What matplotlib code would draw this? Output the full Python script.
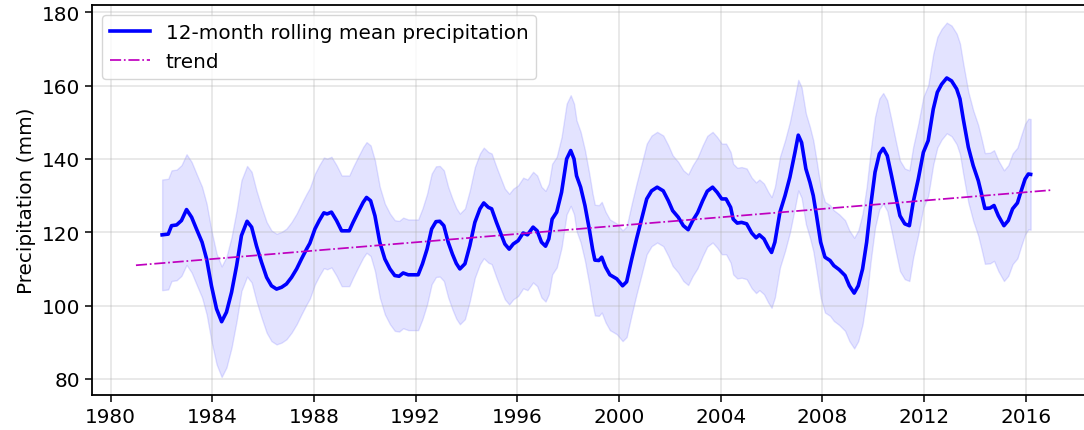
import numpy as np
import matplotlib
matplotlib.use("Agg")
import matplotlib.pyplot as plt

# 12-month rolling mean precipitation (mm)
years = [
    1982.03, 1982.27, 1982.40, 1982.60, 1982.79, 1982.99, 1983.19, 1983.38, 1983.60, 1983.78,
    1983.97, 1984.17, 1984.37, 1984.56, 1984.76, 1984.96, 1985.15, 1985.37, 1985.55, 1985.74,
    1985.94, 1986.14, 1986.33, 1986.53, 1986.73, 1986.92, 1987.12, 1987.32, 1987.51, 1987.71,
    1987.84, 1988.04, 1988.21, 1988.39, 1988.52, 1988.69, 1988.89, 1989.09, 1989.39, 1989.54,
    1989.74, 1989.94, 1990.07, 1990.23, 1990.40, 1990.59, 1990.79, 1990.99, 1991.18, 1991.35,
    1991.51, 1991.71, 1992.10, 1992.27, 1992.45, 1992.63, 1992.80, 1992.95, 1993.11, 1993.28,
    1993.45, 1993.60, 1993.74, 1993.94, 1994.13, 1994.33, 1994.53, 1994.68, 1994.86, 1994.99,
    1995.18, 1995.38, 1995.51, 1995.68, 1995.84, 1996.03, 1996.23, 1996.40, 1996.62, 1996.78,
    1996.95, 1997.11, 1997.24, 1997.37, 1997.55, 1997.74, 1997.94, 1998.10, 1998.23, 1998.33,
    1998.49, 1998.66, 1998.83, 1998.96, 1999.05, 1999.21, 1999.32, 1999.47, 1999.64, 1999.91,
    2000.14, 2000.30, 2000.50, 2000.69, 2000.89, 2001.09, 2001.28, 2001.50, 2001.74, 2001.94,
    2002.11, 2002.33, 2002.53, 2002.72, 2002.90, 2003.09, 2003.29, 2003.47, 2003.68, 2003.86,
    2004.04, 2004.21, 2004.39, 2004.49, 2004.65, 2004.82, 2005.02, 2005.22, 2005.39, 2005.52,
    2005.70, 2005.87, 2006.00, 2006.13, 2006.33, 2006.53, 2006.72, 2006.92, 2007.05, 2007.18,
    2007.35, 2007.51, 2007.64, 2007.77, 2007.93, 2008.10, 2008.30, 2008.45, 2008.66, 2008.89,
    2009.06, 2009.25, 2009.41, 2009.58, 2009.74, 2009.90, 2010.07, 2010.24, 2010.39, 2010.55,
    2010.72, 2010.88, 2011.05, 2011.24, 2011.42, 2011.57, 2011.77, 2011.97, 2012.16, 2012.36,
    2012.52, 2012.69, 2012.89, 2013.08, 2013.28, 2013.41, 2013.54, 2013.74, 2013.93, 2014.13,
    2014.26, 2014.39, 2014.59, 2014.75, 2014.92, 2015.14, 2015.31, 2015.48, 2015.67, 2015.80,
    2015.97, 2016.10, 2016.19,
]
rolling_mean = [
    119.3, 119.5, 121.8, 122.0, 123.2, 126.2, 124.1, 120.9, 117.3, 112.7,
    105.4, 99.1, 95.6, 98.2, 103.6, 110.9, 119.1, 123.0, 121.4, 116.3,
    111.8, 107.7, 105.4, 104.5, 105.0, 105.9, 107.7, 110.0, 112.7, 115.4,
    117.0, 120.9, 123.2, 125.3, 125.0, 125.5, 123.2, 120.4, 120.4, 122.7,
    125.5, 128.2, 129.5, 128.6, 124.5, 117.3, 112.7, 110.0, 108.2, 108.0,
    108.9, 108.4, 108.4, 111.4, 115.4, 120.9, 122.9, 123.0, 121.8, 117.3,
    114.0, 111.5, 110.0, 111.4, 116.3, 122.7, 126.4, 128.0, 126.8, 126.4,
    122.7, 119.1, 116.8, 115.4, 116.8, 117.7, 119.8, 119.3, 121.4, 120.4,
    117.3, 116.2, 118.2, 123.6, 125.5, 130.9, 140.0, 142.3, 140.0, 135.4,
    132.3, 127.3, 120.9, 115.4, 112.4, 112.3, 113.2, 110.5, 108.4, 107.3,
    105.4, 106.5, 112.7, 118.2, 123.6, 129.1, 131.3, 132.3, 131.3, 128.6,
    125.9, 124.1, 121.8, 120.7, 123.2, 125.3, 128.6, 131.2, 132.3, 130.9,
    129.1, 129.1, 126.8, 123.6, 122.5, 122.7, 122.3, 119.8, 118.5, 119.3,
    118.2, 115.9, 114.5, 117.3, 125.5, 130.0, 135.0, 141.8, 146.5, 144.5,
    137.3, 133.6, 130.0, 124.5, 117.3, 113.2, 112.3, 110.9, 109.8, 108.2,
    105.4, 103.4, 105.4, 110.0, 117.3, 127.3, 136.4, 141.4, 142.9, 140.9,
    135.4, 130.0, 124.5, 122.3, 121.8, 128.2, 134.5, 141.8, 145.0, 153.6,
    158.2, 160.4, 162.1, 161.3, 159.1, 156.4, 150.9, 143.2, 138.2, 134.1,
    130.4, 126.5, 126.6, 127.3, 124.5, 121.8, 123.2, 126.4, 128.0, 130.9,
    134.5, 135.9, 135.8,
]
spread = 15.1  # one standard deviation either side of the mean

trend_years = [1981.0, 2017.0]
trend_values = [111.0, 131.5]

plt.rcParams['font.size'] = 14.4

fig = plt.figure(figsize=(10.84, 4.31), dpi=100)
ax = fig.add_axes([0.0846, 0.0812, 0.9288, 0.9048])

x = np.array(years)
y = np.array(rolling_mean)
ax.plot(x, y, color='b', linewidth=2.6, label='12-month rolling mean precipitation')
ax.fill_between(x, y - spread, y + spread, color='b', alpha=0.11, linewidth=1.0)
ax.plot(trend_years, trend_values, 'm-.', linewidth=1.25, label='trend')

ax.set_xlim(1979.26, 2018.86)
ax.set_ylim(75.6, 182.0)
ax.set_xticks(np.arange(1980, 2017, 4))
ax.set_yticks(np.arange(80, 181, 20))
ax.set_ylabel('Precipitation (mm)')
ax.grid(True, color='#b0b0b0', alpha=0.35, linewidth=1.1)
for s in ax.spines.values():
    s.set_linewidth(1.3)
ax.tick_params(length=4.8, width=1.1)
ax.legend(loc='upper left')

fig.savefig('out.png', dpi=100)
